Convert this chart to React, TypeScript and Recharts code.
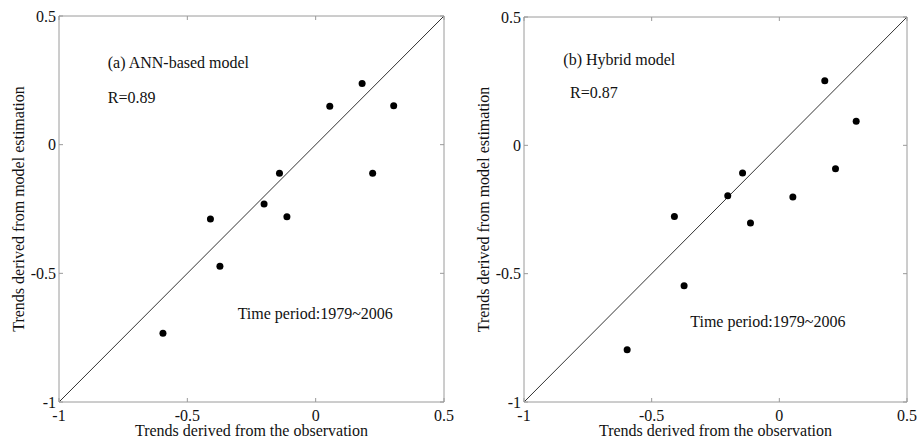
import {
  ScatterChart,
  Scatter,
  XAxis,
  YAxis,
  ReferenceLine,
  ReferenceDot,
} from "recharts";

// observed trend vs. model-estimated trend, one point per station
const obsTrendA = [-0.595, -0.41, -0.373, -0.201, -0.141, -0.112, 0.055, 0.181, 0.222, 0.304];
const annTrend = [-0.733, -0.289, -0.472, -0.231, -0.111, -0.28, 0.149, 0.238, -0.111, 0.151];

const obsTrendB = [-0.596, -0.411, -0.373, -0.202, -0.144, -0.113, 0.053, 0.178, 0.22, 0.301];
const hybridTrend = [-0.796, -0.277, -0.547, -0.196, -0.108, -0.303, -0.201, 0.252, -0.091, 0.094];

const axisTicks = [-1, -0.5, 0, 0.5];
const axisDomain = [-1, 0.5];

const notesA = [
  { x: -0.81, y: 0.321, text: "(a) ANN-based model" },
  { x: -0.81, y: 0.185, text: "R=0.89" },
  { x: -0.304, y: -0.654, text: "Time period:1979~2006" },
];
const notesB = [
  { x: -0.846, y: 0.334, text: "(b) Hybrid model" },
  { x: -0.82, y: 0.205, text: "R=0.87" },
  { x: -0.349, y: -0.687, text: "Time period:1979~2006" },
];

const FONT = "'Liberation Serif', 'Times New Roman', serif";
const FRAME = "#9a9a9a";
const INK = "#111";
const TICK_LEN = 4;

const toPoints = (xs: number[], ys: number[]) => xs.map((x, i) => ({ x, y: ys[i] }));

// inward tick marks, MATLAB-box style; labels only on bottom/left
const BottomTick = (p: any) => (
  <g>
    <line x1={p.x} y1={p.y} x2={p.x} y2={p.y - TICK_LEN} stroke={FRAME} />
    <text x={p.x} y={p.y + 13} textAnchor="middle" dominantBaseline="central" fill={INK} stroke="none" fontSize={16} fontFamily={FONT}>
      {String(p.payload.value)}
    </text>
  </g>
);
const LeftTick = (p: any) => (
  <g>
    <line x1={p.x} y1={p.y} x2={p.x + TICK_LEN} y2={p.y} stroke={FRAME} />
    <text x={p.x - 3} y={p.y} textAnchor="end" dominantBaseline="central" fill={INK} stroke="none" fontSize={16} fontFamily={FONT}>
      {String(p.payload.value)}
    </text>
  </g>
);
const TopTick = (p: any) => <line x1={p.x} y1={p.y} x2={p.x} y2={p.y + TICK_LEN} stroke={FRAME} />;
const RightTick = (p: any) => <line x1={p.x} y1={p.y} x2={p.x - TICK_LEN} y2={p.y} stroke={FRAME} />;

const Dot = (p: any) => <circle cx={p.cx} cy={p.cy} r={3.5} fill="#000" />;
const NoMark = () => <g />;

type PanelProps = {
  width: number;
  obs: number[];
  est: number[];
  notes: { x: number; y: number; text: string }[];
  margin: { top: number; right: number; left: number; bottom: number };
  yAxisWidth: number;
  yTitleOffset: number;
};

const Panel = ({ width, obs, est, notes, margin, yAxisWidth, yTitleOffset }: PanelProps) => {
  const points = toPoints(obs, est);
  return (
    <ScatterChart width={width} height={439} margin={margin}>
      <XAxis
        xAxisId="b"
        type="number"
        dataKey="x"
        domain={axisDomain}
        ticks={axisTicks}
        interval={0}
        allowDataOverflow
        height={37}
        tickSize={0}
        tickMargin={0}
        tickLine={false}
        stroke={FRAME}
        tick={BottomTick}
        label={{
          value: "Trends derived from the observation",
          position: "insideBottom",
          offset: 3,
          fill: INK,
          stroke: "none",
          fontSize: 16,
          fontFamily: FONT,
        }}
      />
      {/* top and right axes only close the box; a zero-size axis is skipped, so give them 1px */}
      <XAxis
        xAxisId="t"
        orientation="top"
        type="number"
        dataKey="x"
        domain={axisDomain}
        ticks={axisTicks}
        interval={0}
        allowDataOverflow
        height={1}
        tickSize={0}
        tickMargin={0}
        tickLine={false}
        stroke={FRAME}
        tick={TopTick}
      />
      <YAxis
        yAxisId="l"
        type="number"
        dataKey="y"
        domain={axisDomain}
        ticks={axisTicks}
        interval={0}
        allowDataOverflow
        width={yAxisWidth}
        tickSize={0}
        tickMargin={0}
        tickLine={false}
        stroke={FRAME}
        tick={LeftTick}
        label={{
          value: "Trends derived from model estimation",
          angle: -90,
          position: "insideLeft",
          offset: yTitleOffset,
          fill: INK,
          stroke: "none",
          fontSize: 16,
          fontFamily: FONT,
          style: { textAnchor: "middle" },
        }}
      />
      <YAxis
        yAxisId="r"
        orientation="right"
        type="number"
        dataKey="y"
        domain={axisDomain}
        ticks={axisTicks}
        interval={0}
        allowDataOverflow
        width={1}
        tickSize={0}
        tickMargin={0}
        tickLine={false}
        stroke={FRAME}
        tick={RightTick}
      />
      <ReferenceLine
        xAxisId="b"
        yAxisId="l"
        segment={[
          { x: -1, y: -1 },
          { x: 0.5, y: 0.5 },
        ]}
        stroke="#333"
        strokeWidth={1}
      />
      <Scatter xAxisId="t" yAxisId="r" data={points} shape={NoMark} isAnimationActive={false} />
      <Scatter xAxisId="b" yAxisId="l" data={points} shape={Dot} isAnimationActive={false} />
      {notes.map((n) => (
        <ReferenceDot
          key={n.text}
          xAxisId="b"
          yAxisId="l"
          x={n.x}
          y={n.y}
          r={0}
          stroke="none"
          fill="none"
          label={{ value: n.text, position: "right", offset: 0, fill: INK, fontSize: 16, fontFamily: FONT }}
        />
      ))}
    </ScatterChart>
  );
};

export default function App() {
  return (
    <div
      style={{
        position: "absolute",
        left: 0,
        top: 0,
        width: 917,
        height: 439,
        background: "#fff",
        fontFamily: FONT,
      }}
    >
      <div style={{ position: "absolute", left: 0, top: 0 }}>
        <Panel
          width={460}
          obs={obsTrendA}
          est={annTrend}
          notes={notesA}
          margin={{ top: 15, right: 15, left: 0, bottom: 0 }}
          yAxisWidth={59}
          yTitleOffset={18}
        />
      </div>
      <div style={{ position: "absolute", left: 460, top: 0 }}>
        <Panel
          width={457}
          obs={obsTrendB}
          est={hybridTrend}
          notes={notesB}
          margin={{ top: 16, right: 9, left: 0, bottom: 0 }}
          yAxisWidth={64}
          yTitleOffset={23}
        />
      </div>
    </div>
  );
}
